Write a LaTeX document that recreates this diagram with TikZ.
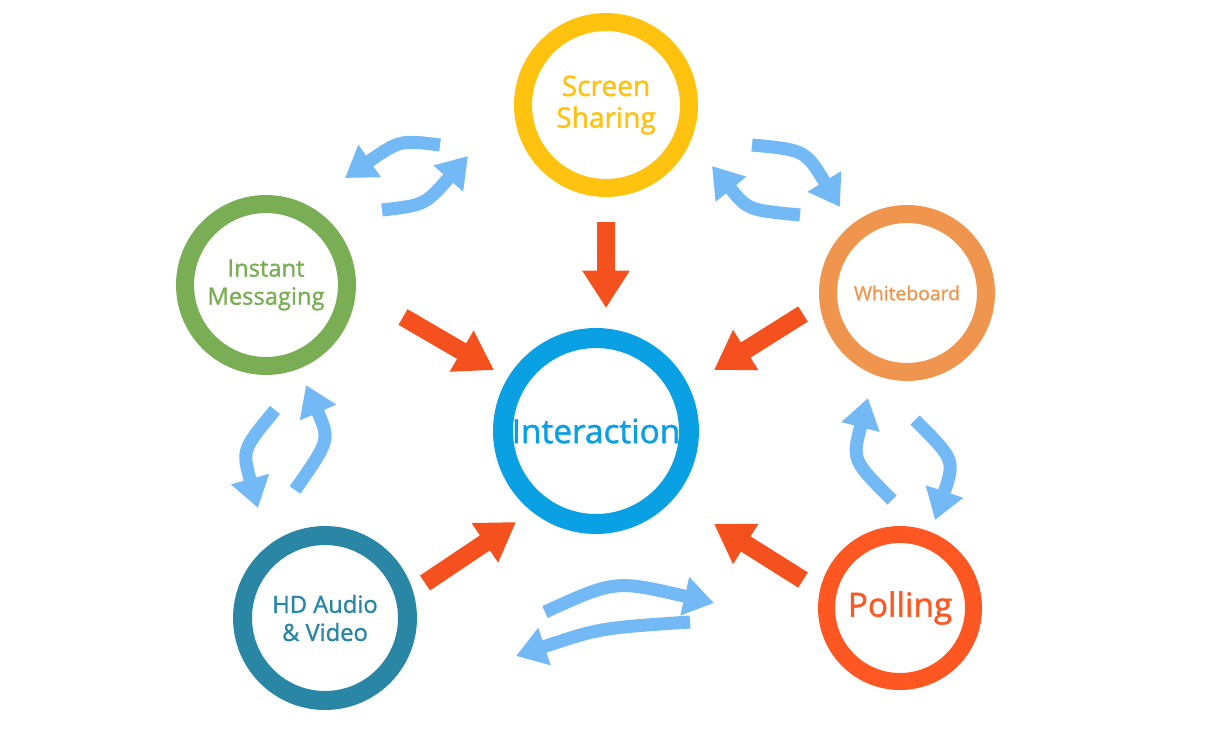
\documentclass[tikz,border=0pt]{standalone}
\usepackage{fontspec}
\setmainfont{Open Sans}
\newfontfamily\semib{Open Sans}[FakeBold=1.3]
\usetikzlibrary{arrows.meta}
\definecolor{cInt}{HTML}{0AA0E4}
\definecolor{cSS}{HTML}{FFC20E}
\definecolor{cIM}{HTML}{7AAE55}
\definecolor{cWB}{HTML}{F0954D}
\definecolor{cHD}{HTML}{2A86A5}
\definecolor{cPol}{HTML}{FF5722}
\definecolor{cRed}{HTML}{F4511E}
\definecolor{cBlue}{HTML}{72B9F5}
\tikzset{
  ring/.style={circle, draw=#1, text=#1, align=center},
  redarrow/.style={cRed, line width=0.36cm, -{Triangle[width=0.9cm,length=0.75cm]}},
  bluearrow/.style={cBlue, line width=0.26cm, -{Triangle[width=0.75cm,length=0.6cm]}}
}
\begin{document}
\begin{tikzpicture}[x=0.02cm, y=-0.02cm]
\useasboundingbox (0,0) rectangle (1215,744);

% circles
\node[ring=cInt, line width=0.4cm, minimum size=3.72cm, font=\semib\fontsize{19}{24}\selectfont] (int) at (596,431) {Interaction};
\node[ring=cSS, line width=0.36cm, minimum size=3.32cm, font=\semib\fontsize{16}{20}\selectfont] (ss) at (606,105) {Screen\\[-2pt]Sharing};
\node[ring=cIM, line width=0.36cm, minimum size=3.24cm, font=\semib\fontsize{13.5}{16}\selectfont] (im) at (266,285) {Instant\\[0pt]Messaging};
\node[ring=cWB, line width=0.36cm, minimum size=3.16cm, font=\semib\fontsize{11}{13}\selectfont] (wb) at (907,293) {Whiteboard};
\node[ring=cHD, line width=0.38cm, minimum size=3.3cm, font=\semib\fontsize{13.5}{16}\selectfont] (hd) at (325,618) {HD Audio\\[0pt]\& Video};
\node[ring=cPol, line width=0.34cm, minimum size=2.94cm, font=\semib\fontsize{19}{22}\selectfont] (pol) at (900,608) {Polling};

% red arrows into the centre
\coordinate (r1s) at (606,222); \coordinate (r1e) at (606,308);
\coordinate (r2s) at (403,317); \coordinate (r2e) at (494,370);
\coordinate (r3s) at (803,314); \coordinate (r3e) at (714,370);
\coordinate (r4s) at (425,583); \coordinate (r4e) at (516,522);
\coordinate (r5s) at (803,580); \coordinate (r5e) at (714,524);
\draw[redarrow] (r1s) -- (r1e);
\draw[redarrow] (r2s) -- (r2e);
\draw[redarrow] (r3s) -- (r3e);
\draw[redarrow] (r4s) -- (r4e);
\draw[redarrow] (r5s) -- (r5e);

% blue exchange arrows
\coordinate (a1) at (440,145); \coordinate (a2) at (345,178);
\coordinate (b1) at (382,210); \coordinate (b2) at (468,156);
\draw[bluearrow] (a1) .. controls (400,140) .. (a2);
\draw[bluearrow] (b1) .. controls (425,205) .. (b2);

\coordinate (c1) at (800,215); \coordinate (c2) at (712,166);
\coordinate (d1) at (752,145); \coordinate (d2) at (840,207);
\draw[bluearrow] (c1) .. controls (748,210) .. (c2);
\draw[bluearrow] (d1) .. controls (805,150) .. (d2);

\coordinate (e1) at (295,490); \coordinate (e2) at (306,385);
\coordinate (f1) at (275,410); \coordinate (f2) at (258,508);
\draw[bluearrow] (e1) .. controls (330,440) .. (e2);
\draw[bluearrow] (f1) .. controls (242,450) .. (f2);

\coordinate (g1) at (892,500); \coordinate (g2) at (868,398);
\coordinate (h1) at (915,420); \coordinate (h2) at (935,520);
\draw[bluearrow] (g1) .. controls (852,460) .. (g2);
\draw[bluearrow] (h1) .. controls (955,460) .. (h2);

\coordinate (k1) at (545,612); \coordinate (k2) at (714,603);
\coordinate (m1) at (690,622); \coordinate (m2) at (516,656);
\draw[bluearrow] (k1) .. controls (615,580) .. (k2);
\draw[bluearrow] (m1) .. controls (600,628) .. (m2);
\end{tikzpicture}
\end{document}
